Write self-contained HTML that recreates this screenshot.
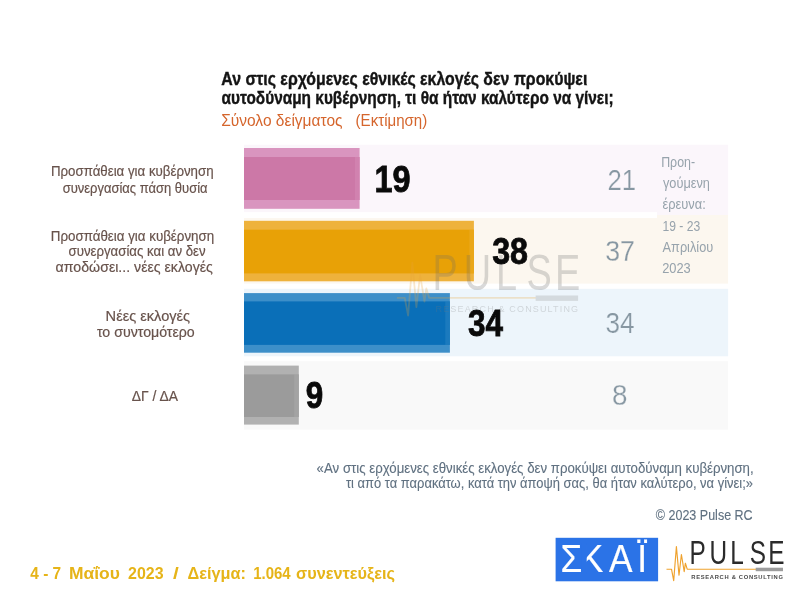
<!DOCTYPE html>
<html>
<head>
<meta charset="utf-8">
<title>Pulse RC – ΣΚΑΪ</title>
<style>
html,body{margin:0;padding:0;background:#fff;}
body{width:796px;height:596px;overflow:hidden;}
svg{display:block;}
text{font-family:"Liberation Sans","DejaVu Sans",sans-serif;}
.t{font-weight:bold;fill:#141414;font-size:18.3px;stroke:#141414;stroke-width:.4px;}
.s{fill:#d5652c;font-size:17px;}
.l{fill:#68534c;font-size:15px;stroke:#68534c;stroke-width:.2px;}
.n{font-weight:bold;fill:#0a0a0a;font-size:36.7px;stroke:#0a0a0a;stroke-width:.8px;}
.p1,.p2,.p3,.p4{fill:#8797a2;font-size:30.3px;stroke-width:.25px;}
.p1{stroke:#fbf6fb;}.p2{stroke:#fcf7ef;}.p3{stroke:#edf5fb;}.p4{stroke:#f9f9f9;}
.q{fill:#97a3ac;font-size:14.2px;}
.f{fill:#607181;font-size:14.7px;stroke:#607181;stroke-width:.12px;}
.d{fill:#e6b418;font-size:16px;font-weight:bold;}
</style>
</head>
<body>
<svg width="796" height="596" viewBox="0 0 796 596">
<rect width="796" height="596" fill="#ffffff"/>

<!-- row bands -->
<rect x="244" y="144.8" width="484.1" height="67.3" fill="#fbf6fb"/>
<rect x="244" y="218.1" width="484.1" height="65.5" fill="#fcf7ef"/>
<rect x="244" y="288.8" width="484.1" height="67.5" fill="#edf5fb"/>
<rect x="244" y="361.2" width="484.1" height="68.4" fill="#f9f9f9"/>
<rect x="657" y="211.5" width="71.1" height="3.5" fill="#fbf6fb"/>
<rect x="657" y="215" width="71.1" height="3.5" fill="#fcf7ef"/>

<!-- bars -->
<rect x="244.0" y="148.0" width="115.6" height="60.8" fill="#d995bf"/>
<rect x="244.0" y="157.0" width="115.6" height="43.0" fill="#cc78a7"/>
<rect x="355.0" y="157.0" width="4.6" height="43.0" fill="#d995bf" opacity=".35"/>
<rect x="244.0" y="220.8" width="229.9" height="60.5" fill="#eeb23c"/>
<rect x="244.0" y="229.7" width="229.9" height="43.7" fill="#e8a106"/>
<rect x="469.3" y="229.7" width="4.6" height="43.7" fill="#eeb23c" opacity=".35"/>
<rect x="244.0" y="293.1" width="205.9" height="59.6" fill="#3d8fc9"/>
<rect x="244.0" y="301.4" width="205.9" height="43.5" fill="#0a6fb8"/>
<rect x="445.3" y="301.4" width="4.6" height="43.5" fill="#3d8fc9" opacity=".35"/>
<rect x="244.0" y="365.6" width="54.8" height="59.0" fill="#b1b1b1"/>
<rect x="244.0" y="374.4" width="54.8" height="42.6" fill="#9b9b9b"/>
<rect x="294.2" y="374.4" width="4.6" height="42.6" fill="#b1b1b1" opacity=".35"/>

<!-- watermark -->
<g transform="translate(435.5 289.7) scale(1.555)" opacity="0.25">
<polyline points="-24.8,5.2 -19.8,5.2 -17.6,16.6 -14.9,-17.4 -12.3,11.2 -9.9,-9.5 -7.1,7.6 -5.9,-0.8 -4.1,5.2 65.0,5.2" fill="none" stroke="#e8a33a" stroke-width="1.15" stroke-linejoin="round"/>
<rect x="64.4" y="3.7" width="27.3" height="3.5" fill="#8c8c8c"/>
<text transform="scale(0.75 1)" x="-2.51 24.13 51.90 78.10 102.53" y="0" font-size="32.5" fill="#6a6a6a">PULSE</text>
<text x="0" y="14.2" font-size="5.8" font-weight="normal" fill="#777777" textLength="91.7" lengthAdjust="spacing">RESEARCH &amp; CONSULTING</text>
</g>

<text class="t" transform="translate(221.32 85.2) scale(0.8671 1)">Αν στις ερχόμενες εθνικές εκλογές δεν προκύψει</text>
<text class="t" transform="translate(221.56 104.1) scale(0.8423 1)">αυτοδύναμη κυβέρνηση, τι θα ήταν καλύτερο να γίνει;</text>
<text class="s" transform="translate(221.20 125.7) scale(0.9138 1)">Σύνολο δείγματος</text>
<text class="s" transform="translate(355.61 125.7) scale(0.8866 1)">(Εκτίμηση)</text>
<text class="l" transform="translate(50.92 176.3) scale(0.8872 1)">Προσπάθεια για κυβέρνηση</text>
<text class="l" transform="translate(62.69 192.5) scale(0.8663 1)">συνεργασίας πάση θυσία</text>
<text class="l" transform="translate(50.81 240.6) scale(0.8904 1)">Προσπάθεια για κυβέρνηση</text>
<text class="l" transform="translate(68.46 256.4) scale(0.8838 1)">συνεργασίας και αν δεν</text>
<text class="l" transform="translate(55.61 272.4) scale(0.9442 1)">αποδώσει... νέες εκλογές</text>
<text class="l" transform="translate(105.62 321.2) scale(0.9744 1)">Νέες εκλογές</text>
<text class="l" transform="translate(96.96 337.3) scale(0.9454 1)">το συντομότερο</text>
<text class="l" transform="translate(131.69 401.2) scale(0.9258 1)">ΔΓ / ΔΑ</text>
<text class="n" transform="translate(374.52 192.2) scale(0.8837 1)">19</text>
<text class="n" transform="translate(492.21 264.2) scale(0.8783 1)">38</text>
<text class="n" transform="translate(468.11 336.1) scale(0.8579 1)">34</text>
<text class="n" transform="translate(305.70 408.0) scale(0.8557 1)">9</text>
<text class="p1" transform="translate(607.38 189.7) scale(0.8500 1)">21</text>
<text class="p2" transform="translate(605.16 261.0) scale(0.8827 1)">37</text>
<text class="p3" transform="translate(605.43 333.0) scale(0.8631 1)">34</text>
<text class="p4" transform="translate(611.95 405.4) scale(0.9200 1)">8</text>
<text class="q" transform="translate(661.14 167.0) scale(0.8734 1)">Προη-</text>
<text class="q" transform="translate(662.98 188.0) scale(0.8988 1)">γούμενη</text>
<text class="q" transform="translate(662.47 209.3) scale(0.9069 1)">έρευνα:</text>
<text class="q" transform="translate(662.47 230.6) scale(0.8545 1)">19 - 23</text>
<text class="q" transform="translate(662.59 252.0) scale(0.8978 1)">Απριλίου</text>
<text class="q" transform="translate(662.17 272.8) scale(0.9056 1)">2023</text>
<text class="f" transform="translate(316.62 473.0) scale(0.9020 1)">«Αν στις ερχόμενες εθνικές εκλογές δεν προκύψει αυτοδύναμη κυβέρνηση,</text>
<text class="f" transform="translate(346.01 488.4) scale(0.8813 1)">τι από τα παρακάτω, κατά την άποψή σας, θα ήταν καλύτερο, να γίνει;»</text>
<text class="f" transform="translate(655.79 519.6) scale(0.8521 1)">© 2023 Pulse RC</text>
<text class="d" transform="translate(30.27 578.5) scale(0.9642 1)">4 - 7</text>
<text class="d" transform="translate(69.01 578.5) scale(1.0907 1)">Μαΐου</text>
<text class="d" transform="translate(128.04 578.5) scale(0.9976 1)">2023</text>
<text class="d" transform="translate(173.06 578.5) scale(1.3000 1)">/</text>
<text class="d" transform="translate(187.52 578.5) scale(1.0188 1)">Δείγμα:</text>
<text class="d" transform="translate(253.15 578.5) scale(0.9376 1)">1.064</text>
<text class="d" transform="translate(296.10 578.5) scale(1.0197 1)">συνεντεύξεις</text>

<!-- SKAI logo -->
<rect x="555.6" y="537.8" width="102.5" height="43.5" fill="#2b73e7"/>
<text transform="translate(0 572.2) scale(0.90 1)" x="622.71 644.12 676.59 708.09" y="0" font-size="39.2" fill="#ffffff" stroke="#ffffff" stroke-width=".2">ΣΚΑΪ</text>
<rect x="581.5" y="543" width="5.2" height="31" fill="#2b73e7"/>

<!-- Pulse logo -->
<g transform="translate(691.3 564)">
<polyline points="-24.8,5.2 -19.8,5.2 -17.6,16.6 -14.9,-17.4 -12.3,11.2 -9.9,-9.5 -7.1,7.6 -5.9,-0.8 -4.1,5.2 65.0,5.2" fill="none" stroke="#efa22e" stroke-width="1.15" stroke-linejoin="round"/>
<rect x="64.4" y="3.7" width="27.3" height="3.5" fill="#9c9c9c"/>
<text transform="scale(0.75 1)" x="-2.51 24.13 51.90 78.10 102.53" y="0" font-size="32.5" fill="#2b2b2b">PULSE</text>
<text x="0" y="14.9" font-size="5.8" font-weight="bold" fill="#4a4a4a" textLength="91.7" lengthAdjust="spacing">RESEARCH &amp; CONSULTING</text>
</g>

</svg>
</body>
</html>
